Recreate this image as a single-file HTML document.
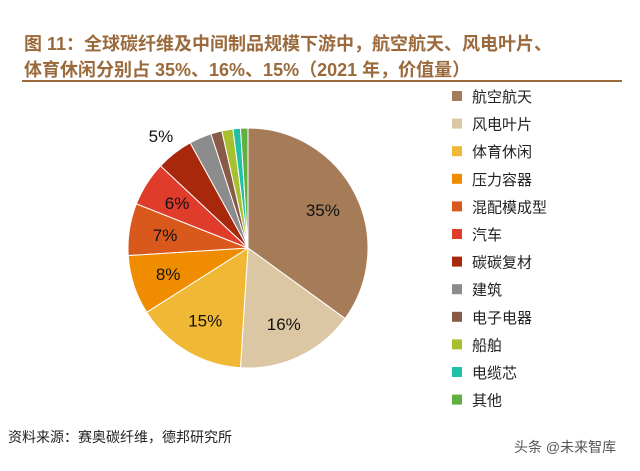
<!DOCTYPE html>
<html><head><meta charset="utf-8"><style>
body{margin:0;background:#fff;width:640px;height:466px;overflow:hidden;font-family:"Liberation Sans","Noto Sans CJK SC",sans-serif}
</style></head><body>
<svg width="640" height="466" xmlns="http://www.w3.org/2000/svg">
<text x="24" y="50" font-size="18" font-weight="bold" fill="#9a6a3c" font-family="Liberation Sans, Noto Sans CJK SC, sans-serif">图 11：全球碳纤维及中间制品规模下游中，航空航天、风电叶片、</text>
<text x="24" y="76" font-size="18" font-weight="bold" fill="#9a6a3c" font-family="Liberation Sans, Noto Sans CJK SC, sans-serif">体育休闲分别占 35%、16%、15%（2021 年，价值量）</text>
<rect x="22" y="80" width="600" height="2" fill="#9a6a3c"/>
<g id="pie"></g>
<g id="legend"></g>
<text x="8" y="442" font-size="14" fill="#222">资料来源：赛奥碳纤维，德邦研究所</text>
<text x="514" y="452" font-size="14" fill="#555">头条 @未来智库</text>
</svg>
<script>
const categories=["航空航天","风电叶片","体育休闲","压力容器","混配模成型","汽车","碳碳复材","建筑","电子电器","船舶","电缆芯","其他"];
const values=[35,16,15,8,7,6,5,3,1.5,1.5,1,1];
const labels=["35%","16%","15%","8%","7%","6%","5%","","","","",""];
const colors=["#a67c58","#dcc7a4","#f0b834","#f08c00","#d9581c","#e03c2c","#a8280c","#8c8c8c","#8a5a48","#a8c030","#20c0a8","#60b040"];
const NS="http://www.w3.org/2000/svg";
const cx=248,cy=248,r=120;
const total=values.reduce((a,b)=>a+b,0);
const pie=document.getElementById('pie');
let a0=-Math.PI/2;
values.forEach((v,i)=>{
  const a1=a0+v/total*2*Math.PI;
  const x0=cx+r*Math.cos(a0),y0=cy+r*Math.sin(a0),x1=cx+r*Math.cos(a1),y1=cy+r*Math.sin(a1);
  const p=document.createElementNS(NS,'path');
  p.setAttribute('d',`M${cx},${cy}L${x0},${y0}A${r},${r} 0 ${a1-a0>Math.PI?1:0} 1 ${x1},${y1}Z`);
  p.setAttribute('fill',colors[i]);p.setAttribute('stroke','#fff');p.setAttribute('stroke-width','1');
  
  
  pie.appendChild(p);
  if(labels[i]){
    const am=(a0+a1)/2;const lr=i==6?r+22:r*0.7;
    const t=document.createElementNS(NS,'text');
    t.setAttribute('x',cx+lr*Math.cos(am));t.setAttribute('y',cy+lr*Math.sin(am)+6);
    t.setAttribute('text-anchor','middle');t.setAttribute('font-size','17');t.setAttribute('fill','#111');
    t.textContent=labels[i];
    
    
    pie.appendChild(t);
  }
  a0=a1;
});
const lg=document.getElementById('legend');
categories.forEach((c,i)=>{
  const y=96+i*27.6;
  const s=document.createElementNS(NS,'rect');
  s.setAttribute('x',452);s.setAttribute('y',y-5);s.setAttribute('width',10);s.setAttribute('height',10);s.setAttribute('fill',colors[i]);
  
  
  lg.appendChild(s);
  const t=document.createElementNS(NS,'text');
  t.setAttribute('x',472);t.setAttribute('y',y+6);t.setAttribute('font-size','15');t.setAttribute('fill','#222');
  t.textContent=c;
  
  
  lg.appendChild(t);
});
</script>
</body></html>
